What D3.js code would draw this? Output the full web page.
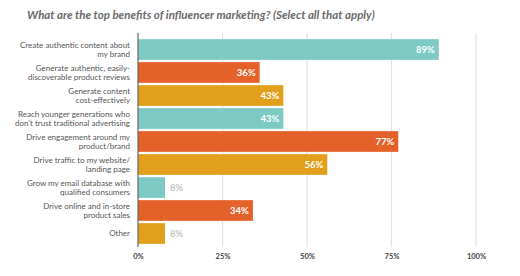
<!DOCTYPE html>
<html>
<head>
<meta charset="utf-8">
<script src="https://cdn.jsdelivr.net/npm/d3@7"></script>
<style>
  body { margin: 0; background: #fff; }
  svg { font-family: "Lato", "Open Sans", sans-serif; }
</style>
</head>
<body>
<svg id="chart" width="520" height="276"></svg>
<script>
// data
const categories = [
    ["Create authentic content about", "my brand"],
    ["Generate authentic, easily-", "discoverable product reviews"],
    ["Generate content", "cost-effectively"],
    ["Reach younger generations who", "don't trust traditional advertising"],
    ["Drive engagement around my", "product/brand"],
    ["Drive traffic to my website/", "landing page"],
    ["Grow my email database with", "qualified consumers"],
    ["Drive online and in-store", "product sales"],
    ["Other"]
];
const values = [89, 36, 43, 43, 77, 56, 8, 34, 8];
const barColors = ["#7dcac4", "#e4622a", "#e29f1c", "#7dcac4", "#e4622a", "#e29f1c", "#7dcac4", "#e4622a", "#e29f1c"];
const tickValues = [0, 25, 50, 75, 100];

const margin = { top: 38, left: 138 };
const width = 338;
const height = 207;

const svg = d3.select("#chart");

svg.append("text")
    .attr("x", 27)
    .attr("y", 19)
    .attr("fill", "#6a6a6a")
    .style("font-size", "11.5px")
    .style("font-style", "italic")
    .style("font-weight", "bold")
    .text("What are the top benefits of influencer marketing? (Select all that apply)");

const g = svg.append("g")
    .attr("transform", `translate(${margin.left},${margin.top})`);

const xScale = d3.scaleLinear().domain([0, 100]).range([0, width]);
const yScale = d3.scaleBand()
    .domain(d3.range(categories.length))
    .range([0, height])
    .paddingInner(0.1)
    .paddingOuter(0.05);

// gridlines
g.selectAll("line.grid")
    .data(tickValues.slice(1))
    .enter()
    .append("line")
    .attr("class", "grid")
    .attr("x1", d => xScale(d))
    .attr("x2", d => xScale(d))
    .attr("y1", -5)
    .attr("y2", height + 2)
    .attr("stroke", "#e2e2e2")
    .attr("stroke-width", 1.2);

// bars
g.selectAll("rect.bar")
    .data(values)
    .enter()
    .append("rect")
    .attr("class", "bar")
    .attr("x", 0)
    .attr("y", (d, i) => yScale(i))
    .attr("width", d => xScale(d))
    .attr("height", yScale.bandwidth())
    .attr("fill", (d, i) => barColors[i]);

// value labels
g.selectAll("text.val")
    .data(values)
    .enter()
    .append("text")
    .attr("class", "val")
    .attr("x", d => d > 20 ? xScale(d) - 4 : xScale(d) + 5)
    .attr("y", (d, i) => yScale(i) + yScale.bandwidth() / 2)
    .attr("dy", "0.35em")
    .attr("text-anchor", d => d > 20 ? "end" : "start")
    .attr("fill", d => d > 20 ? "#fff" : "#b5b5b5")
    .style("font-size", "9.5px")
    .style("font-weight", d => d > 20 ? "bold" : "normal")
    .text(d => d + "%");

// category labels
categories.forEach((lines, i) => {
    const t = g.append("text")
        .attr("x", -8)
        .attr("y", yScale(i) + yScale.bandwidth() / 2)
        .attr("text-anchor", "end")
        .attr("fill", "#555")
        .style("font-size", "8px");
    lines.forEach((line, j) => {
        t.append("tspan")
            .attr("x", -8)
            .attr("dy", j === 0 ? (lines.length === 1 ? "0.35em" : "-0.2em") : "1.1em")
            .text(line);
    });
});

// y axis line
g.append("line")
    .attr("x1", 0).attr("x2", 0)
    .attr("y1", -5).attr("y2", height + 2)
    .attr("stroke", "#666")
    .attr("stroke-width", 1.2);

// x axis tick labels
const xAxis = g.append("g")
    .attr("transform", `translate(0,${height + 6})`)
    .call(d3.axisBottom(xScale).tickValues(tickValues).tickSize(0).tickFormat(d => d + "%"));
xAxis.select(".domain").remove();
xAxis.selectAll("text")
    .attr("fill", "#444")
    .style("font-size", "7.5px")
    .style("font-weight", "bold")
    .style("font-family", "Lato, sans-serif");
</script>
</body>
</html>
